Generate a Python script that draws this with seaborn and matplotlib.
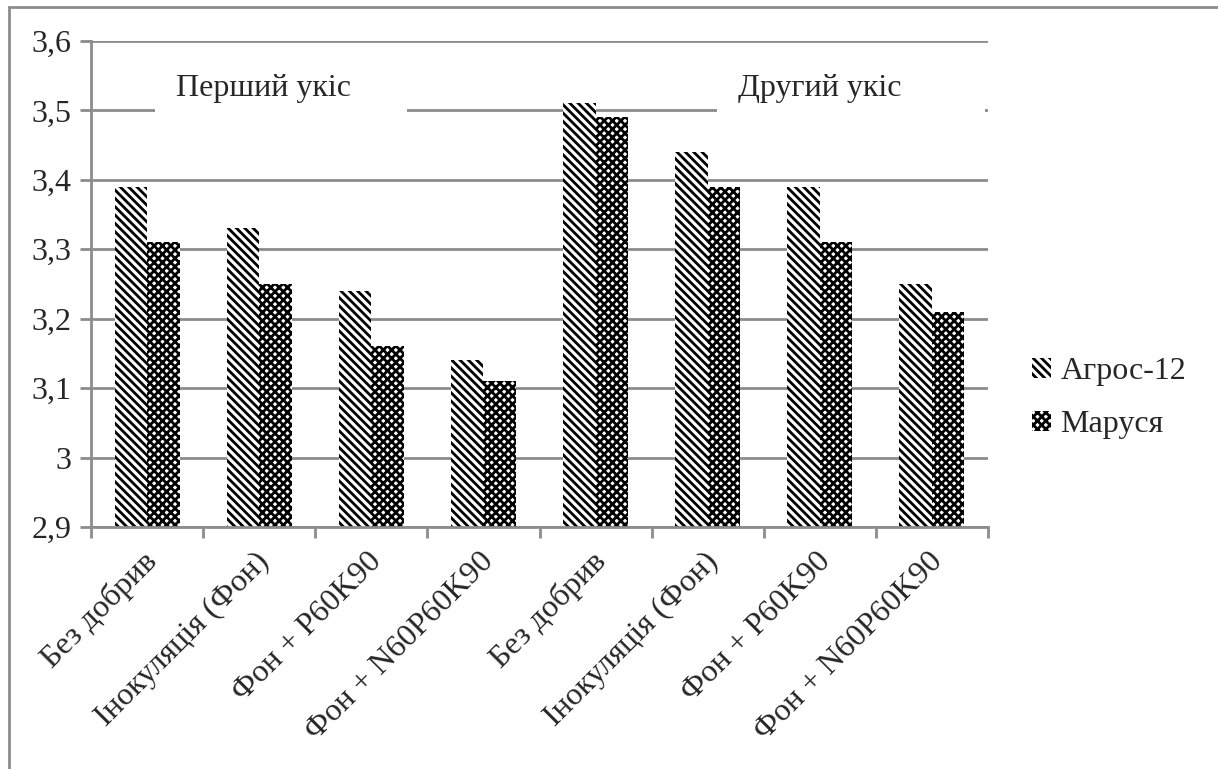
import matplotlib
matplotlib.use("Agg")
import matplotlib.pyplot as plt
import matplotlib.transforms as mtransforms
from matplotlib.patches import Rectangle, Patch
import seaborn as sns
import pandas as pd

# Treatments for the two cuts
treatments = ["Без добрив", "Інокуляція (Фон)", "Фон + P60K90", "Фон + N60P60K90",
              "Без добрив", "Інокуляція (Фон)", "Фон + P60K90", "Фон + N60P60K90"]
varieties = ["Агрос-12", "Маруся"]
agros = [3.39, 3.33, 3.24, 3.14, 3.51, 3.44, 3.39, 3.25]
marusia = [3.31, 3.25, 3.16, 3.11, 3.49, 3.39, 3.31, 3.21]
cut_labels = ["Перший укіс", "Другий укіс"]
y_ticks = [2.9, 3.0, 3.1, 3.2, 3.3, 3.4, 3.5, 3.6]
y_tick_labels = ["2,9", "3", "3,1", "3,2", "3,3", "3,4", "3,5", "3,6"]

slots = [f"s{i}" for i in range(len(treatments))]
df = pd.DataFrame({
    "slot": slots * 2,
    "variety": [varieties[0]] * len(slots) + [varieties[1]] * len(slots),
    "value": agros + marusia,
})

sns.set_theme(style="white")
FONT = ["Liberation Serif", "DejaVu Serif"]
plt.rcParams["font.family"] = FONT
plt.rcParams["hatch.linewidth"] = 2.0

FS = 23
fig = plt.figure(figsize=(12.18, 7.69), dpi=100)
ax = fig.add_axes([91 / 1218, 1 - 527 / 769, (988 - 91) / 1218, (527 - 41) / 769])

grid_color = "#8c8c8c"
sns.barplot(data=df, x="slot", y="value", hue="variety", order=slots,
            hue_order=varieties, palette=["white", "white"], width=0.58,
            gap=0, edgecolor="black", linewidth=0, legend=False, ax=ax,
            zorder=3)

hatches = {"Агрос-12": "\\\\\\\\", "Маруся": "xxxx"}
for container, name in zip(ax.containers, varieties):
    for bar in container:
        bar.set_hatch(hatches[name])
        bar.set_edgecolor("black")
        bar.set_linewidth(0)

ax.set_ylim(2.9, 3.6)
ax.set_xlim(-0.5, len(slots) - 0.5)
ax.set_yticks(y_ticks)
ax.set_yticklabels(y_tick_labels, fontsize=FS, family=FONT)
ax.set_xticks(range(len(slots)))
ax.set_xticklabels(treatments, rotation=45, ha="right", va="center",
                   rotation_mode="anchor", fontsize=FS, family=FONT)
ax.set_xticks([i - 0.5 for i in range(len(slots) + 1)], minor=True)
ax.tick_params(axis="x", which="major", length=0, pad=22)
ax.tick_params(axis="x", which="minor", length=8, width=2, color=grid_color,
               direction="out", bottom=True)
ax.tick_params(axis="y", length=8, width=2, color=grid_color,
               direction="out", left=True, pad=6)
ax.set_xlabel("")
ax.set_ylabel("")

# nudge the slanted category labels slightly to the right
shift = mtransforms.ScaledTranslation(6 / 100, 0, fig.dpi_scale_trans)
for lbl in ax.get_xticklabels():
    lbl.set_transform(lbl.get_transform() + shift)

ax.yaxis.grid(True, color=grid_color, linewidth=2)
ax.set_axisbelow(True)
for side in ["top", "right"]:
    ax.spines[side].set_visible(False)
for side in ["left", "bottom"]:
    ax.spines[side].set_color(grid_color)
    ax.spines[side].set_linewidth(2)
    ax.spines[side].set_zorder(4)

# Cut titles sit on white panels laid over the 3,5 gridline
ax.add_patch(Rectangle((0.07, 3.47), 2.25, 0.12, facecolor="white",
                       edgecolor="none", zorder=4))
ax.add_patch(Rectangle((5.08, 3.47), 2.39, 0.12, facecolor="white",
                       edgecolor="none", zorder=4))
ax.text(1.04, 3.532, cut_labels[0], fontsize=FS, ha="center", va="center",
        zorder=5, family=FONT)
ax.text(6.0, 3.532, cut_labels[1], fontsize=FS, ha="center", va="center",
        zorder=5, family=FONT)

handles = [Patch(facecolor="white", edgecolor="black", linewidth=0,
                 hatch=hatches[v], label=v) for v in varieties]
fig.legend(handles=handles, loc="center left",
           bbox_to_anchor=(1003 / 1218, 1 - 398 / 769), frameon=False,
           prop={"family": FONT, "size": FS}, handlelength=0.6,
           handleheight=0.6, handletextpad=0.3, labelspacing=0.75)

# Outer frame (left and top edges)
fig.patches.append(Rectangle((9 / 1218, -0.1), 1.2, 1 - 7 / 769 + 0.1,
                             transform=fig.transFigure, fill=False,
                             edgecolor=grid_color, linewidth=2))

fig.savefig("out.png", dpi=100, facecolor="white")
